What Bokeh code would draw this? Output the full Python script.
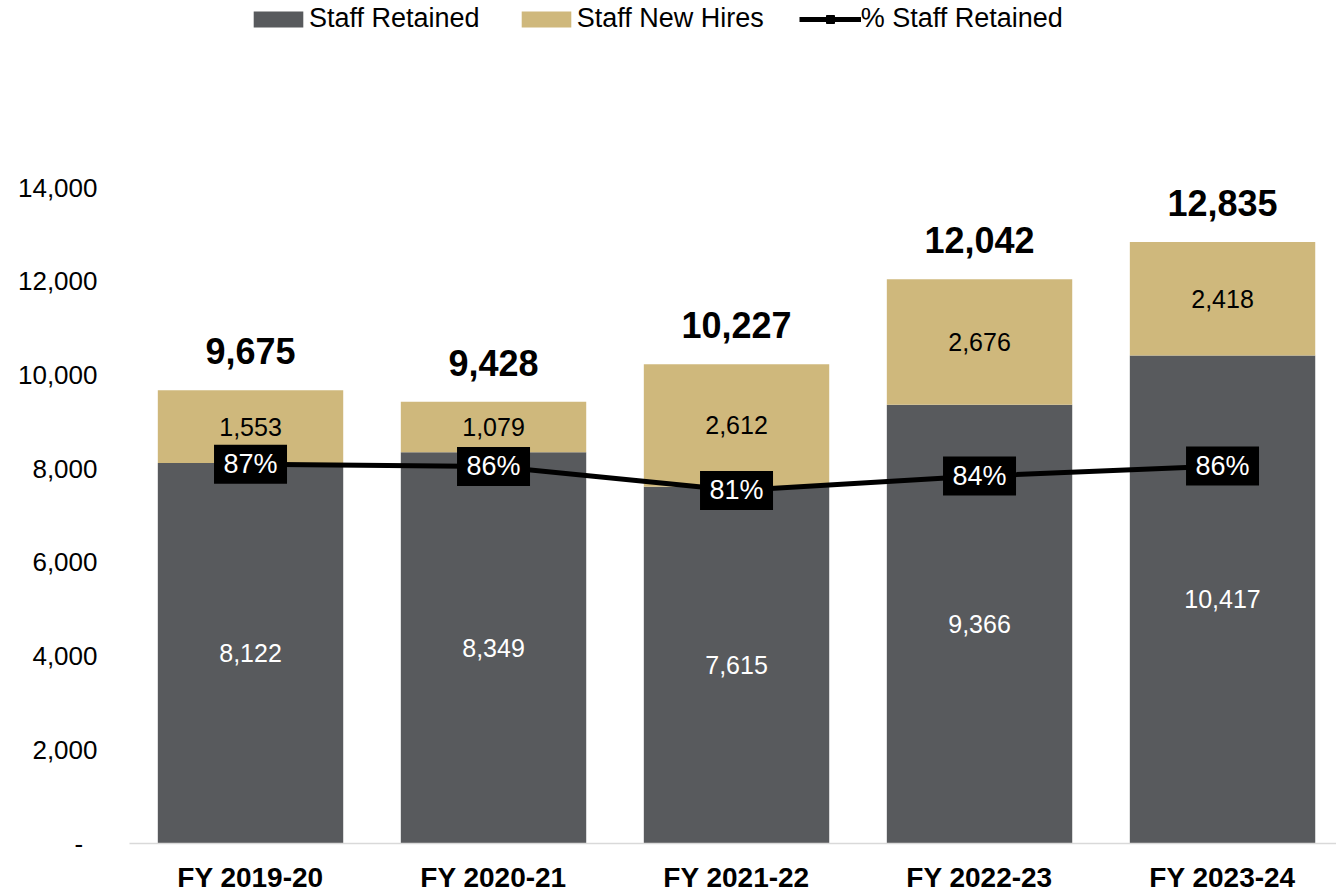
from bokeh.plotting import figure
from bokeh.models import (ColumnDataSource, Range1d, FixedTicker, Legend, LegendItem,
                          NumeralTickFormatter)
from bokeh.core.properties import value
from bokeh.embed import file_html
from bokeh.resources import INLINE

# ---- data ----
categories = ["FY 2019-20", "FY 2020-21", "FY 2021-22", "FY 2022-23", "FY 2023-24"]
staff_retained = [8122, 8349, 7615, 9366, 10417]
staff_new_hires = [1553, 1079, 2612, 2676, 2418]
pct_retained = [0.867, 0.862, 0.807, 0.840, 0.863]
y_ticks = [0, 2000, 4000, 6000, 8000, 10000, 12000, 14000]

# ---- styles ----
GRAY = "#585A5D"
TAN = "#CFB87C"
FONT = "Liberation Sans"

x = list(range(len(categories)))
totals = [r + n for r, n in zip(staff_retained, staff_new_hires)]
src = ColumnDataSource(dict(
    x=x,
    retained=staff_retained,
    new=staff_new_hires,
    total=totals,
    ret_mid=[r / 2 for r in staff_retained],
    new_mid=[r + n / 2 for r, n in zip(staff_retained, staff_new_hires)],
    ret_label=[f"{v:,}" for v in staff_retained],
    new_label=[f"{v:,}" for v in staff_new_hires],
    total_label=[f"{v:,}" for v in totals],
    pct=pct_retained,
    pct_label=[f"{v:.0%}" for v in pct_retained],
))

p = figure(width=1336, height=895,
           x_range=Range1d(-0.498, 4.469), y_range=Range1d(0, 17991),
           output_backend="svg", toolbar_location=None,
           min_border_left=129, min_border_right=0, min_border_top=0, min_border_bottom=52)
p.extra_y_ranges = {"pct": Range1d(0, 1.9269)}
p.outline_line_color = None
p.xgrid.visible = False
p.ygrid.visible = False
p.background_fill_color = "white"

bars = p.vbar_stack(["retained", "new"], x="x", width=0.763, color=[GRAY, TAN],
                    line_color=None, source=src)

p.text(x="x", y="ret_mid", text="ret_label", source=src, text_color="white",
       text_align="center", text_baseline="middle", text_font=value(FONT),
       text_font_size="25px")
p.text(x="x", y="new_mid", text="new_label", source=src, text_color="black",
       text_align="center", text_baseline="middle", text_font=value(FONT),
       text_font_size="25px")
p.text(x="x", y="total", text="total_label", source=src, text_color="black",
       text_align="center", text_baseline="middle", text_font=value(FONT),
       text_font_size="36px", text_font_style="bold", y_offset=-39)

line_r = p.line(x="x", y="pct", source=src, y_range_name="pct", line_width=5,
                line_color="black")
mark_r = p.scatter(x="x", y="pct", source=src, y_range_name="pct", marker="square",
                   size=16, fill_color="black", line_color="black")
p.rect(x="x", y="pct", width=73, height=39, width_units="screen", height_units="screen",
       source=src, y_range_name="pct", fill_color="black", line_color=None)
p.text(x="x", y="pct", text="pct_label", source=src, y_range_name="pct",
       text_color="white", text_align="center", text_baseline="middle",
       text_font=value(FONT), text_font_size="27px")

# y axis
yax = p.yaxis[0]
yax.ticker = FixedTicker(ticks=y_ticks)
yax.formatter = NumeralTickFormatter(format="0,0")
yax.major_label_overrides = {0: "-\u00a0\u00a0"}
yax.axis_line_color = None
yax.major_tick_line_color = None
yax.minor_tick_line_color = None
yax.major_tick_out = 0
yax.major_tick_in = 0
yax.major_label_standoff = 32
yax.major_label_text_font = FONT
yax.major_label_text_font_size = "26px"
yax.major_label_text_color = "black"

# x axis
xax = p.xaxis[0]
xax.ticker = FixedTicker(ticks=x)
xax.major_label_overrides = {i: c for i, c in zip(x, categories)}
xax.axis_line_color = "#d9d9d9"
xax.axis_line_width = 1.5
xax.major_tick_line_color = None
xax.minor_tick_line_color = None
xax.major_tick_out = 0
xax.major_tick_in = 0
xax.major_label_standoff = 18
xax.major_label_text_font = FONT
xax.major_label_text_font_size = "28px"
xax.major_label_text_font_style = "bold"
xax.major_label_text_color = "black"

legend = Legend(items=[
    LegendItem(label="Staff Retained", renderers=[bars[0]]),
    LegendItem(label="Staff New Hires", renderers=[bars[1]]),
    LegendItem(label="% Staff Retained", renderers=[line_r, mark_r]),
], orientation="horizontal", location=(118, 809), glyph_width=62, glyph_height=20,
   label_standoff=0, spacing=35, padding=0, margin=0, border_line_color=None,
   background_fill_alpha=0, label_text_font=FONT, label_text_font_size="27px",
   label_text_color="black")
p.add_layout(legend)

open("out.html", "w").write(file_html(p, INLINE))
